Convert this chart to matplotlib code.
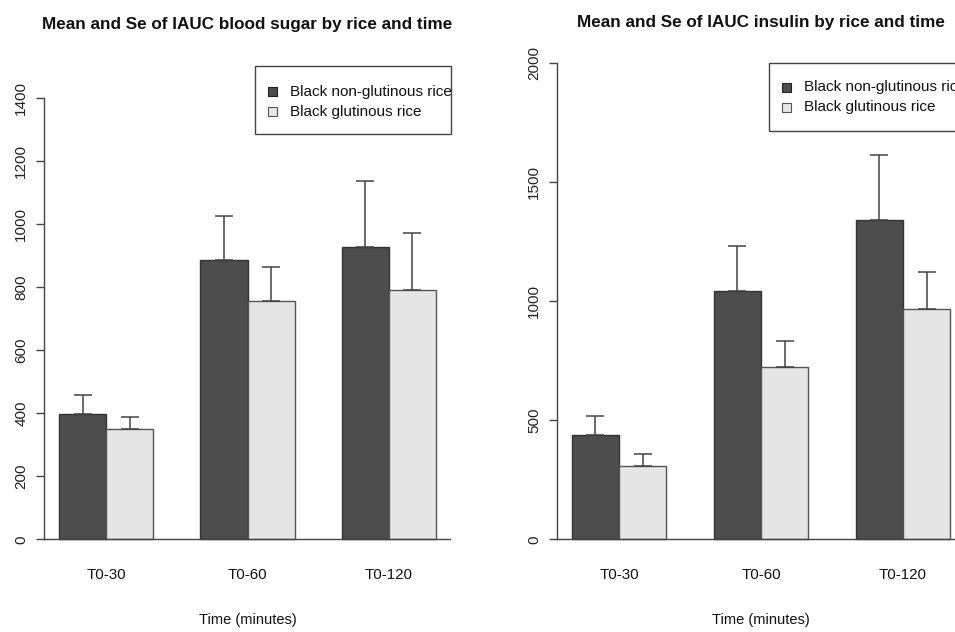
import matplotlib
matplotlib.use("Agg")
import matplotlib.pyplot as plt
from matplotlib.patches import Rectangle
from matplotlib.transforms import ScaledTranslation
import numpy as np

plt.rcParams['font.family'] = ['Liberation Sans', 'DejaVu Sans']

categories = ["T0-30", "T0-60", "T0-120"]
series_names = ["Black non-glutinous rice", "Black glutinous rice"]

sugar_nonglut_mean = [397, 886, 928]
sugar_nonglut_se = [60, 140, 209]
sugar_glut_mean = [349, 757, 790]
sugar_glut_se = [40, 107, 181]

insulin_nonglut_mean = [437, 1045, 1342]
insulin_nonglut_se = [81, 187, 273]
insulin_glut_mean = [308, 725, 969]
insulin_glut_se = [49, 108, 153]

sugar_ticks = [0, 200, 400, 600, 800, 1000, 1200, 1400]
insulin_ticks = [0, 500, 1000, 1500, 2000]

titles = ["Mean and Se of IAUC blood sugar by rice and time",
          "Mean and Se of IAUC insulin by rice and time"]
xlabel = "Time (minutes)"

dark = "#4d4d4d"
light = "#e6e6e6"
axc = "#444444"

W, H, DPI = 955, 632, 100
fig = plt.figure(figsize=(W / DPI, H / DPI), dpi=DPI)

panels = [
    dict(px=(44, 451, 66, 557.6), ylim=(-58.1, 1501.6),
         m1=sugar_nonglut_mean, s1=sugar_nonglut_se, m2=sugar_glut_mean, s2=sugar_glut_se,
         ticks=sugar_ticks, title=titles[0], tbase=28.5, rows=(25.7, 45.7)),
    dict(px=(556.7, 965.3, 63.3, 557.6), ylim=(-76.9, 2000),
         m1=insulin_nonglut_mean, s1=insulin_nonglut_se, m2=insulin_glut_mean, s2=insulin_glut_se,
         ticks=insulin_ticks, title=titles[1], tbase=26.7, rows=(24.0, 44.0)),
]

n = len(categories)
for p in panels:
    x0, x1, ytop, ybot = p["px"]
    ax = fig.add_axes([x0 / W, (H - ybot) / H, (x1 - x0) / W, (ybot - ytop) / H])
    hpx = ybot - ytop
    x_dark = np.arange(n) * 3 + 1.5
    x_light = x_dark + 1
    ax.bar(x_dark, p["m1"], width=1.0, color=dark, edgecolor="#333333", linewidth=1.0, zorder=2)
    ax.bar(x_light, p["m2"], width=1.0, color=light, edgecolor="#555555", linewidth=1.0, zorder=2)
    ax.errorbar(x_dark, p["m1"], yerr=[np.zeros(n), p["s1"]], fmt="none", ecolor=axc,
                elinewidth=1.1, capsize=6.8, capthick=1.1, zorder=3)
    ax.errorbar(x_light, p["m2"], yerr=[np.zeros(n), p["s2"]], fmt="none", ecolor=axc,
                elinewidth=1.1, capsize=6.8, capthick=1.1, zorder=3)
    ax.axhline(0, color=axc, linewidth=1.0, zorder=4)
    ax.set_xlim(0.68, 9.32)
    ax.set_ylim(*p["ylim"])
    for s in ["top", "right", "bottom"]:
        ax.spines[s].set_visible(False)
    ax.spines["left"].set_bounds(p["ticks"][0], p["ticks"][-1])
    ax.spines["left"].set_color(axc)
    ax.spines["left"].set_linewidth(1.0)
    ax.set_yticks(p["ticks"])
    ax.set_yticklabels([str(t) for t in p["ticks"]], rotation=90, va="center", fontsize=11, color="#222222")
    ax.tick_params(axis="y", length=5.8, width=1.0, color=axc, pad=5.5)
    ax.set_xticks(x_dark + 0.5)
    ax.set_xticklabels(categories, fontsize=10.9, color="#111111")
    ax.tick_params(axis="x", length=0, pad=7.5)
    ax.set_xlabel(xlabel, fontsize=10.5, color="#111111")
    ax.xaxis.set_label_coords(0.5, -(613 - ybot) / hpx)
    ax.text(0.5, 1 + (ytop - p["tbase"]) / hpx, p["title"], transform=ax.transAxes,
            ha="center", va="baseline", fontsize=12.3, fontweight="bold", color="#111111")

    # legend (R style, top-right corner of the plot region), positioned in pixels
    tr = fig.dpi_scale_trans + ScaledTranslation(1, 1, ax.transAxes)
    bw, bh = 196, 68
    ax.add_patch(Rectangle((-bw / DPI, -bh / DPI), bw / DPI, bh / DPI, transform=tr,
                           facecolor="white", edgecolor=axc, linewidth=1.0,
                           clip_on=False, zorder=6))
    for i, (name, fc, ec) in enumerate(zip(series_names, [dark, light], ["#222222", "#555555"])):
        ry = p["rows"][i]
        sq = 9
        ax.add_patch(Rectangle(((-bw + 13) / DPI, -(ry + sq / 2) / DPI), sq / DPI, sq / DPI,
                               transform=tr, facecolor=fc, edgecolor=ec, linewidth=0.8,
                               clip_on=False, zorder=7))
        ax.text((-bw + 35) / DPI, -ry / DPI, name, transform=tr, ha="left", va="center",
                fontsize=11, color="#111111", clip_on=False, zorder=7)

fig.savefig("out.png", dpi=DPI)
